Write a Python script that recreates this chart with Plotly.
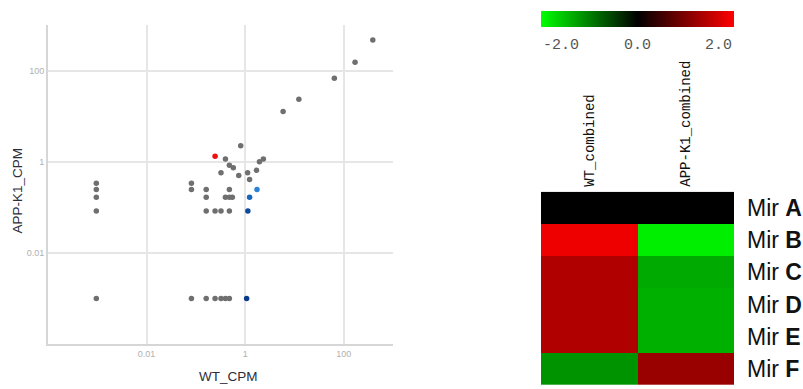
import plotly.graph_objects as go

W, H = 803, 389

# ---------------- Scatter data (CPM, log10 values) ----------------
gray_log_x = [-3.02, -3.02, -3.02, -3.02, -3.02,
              -1.09, -1.09, -1.09,
              -0.79, -0.79, -0.79, -0.79,
              -0.61, -0.61,
              -0.49, -0.49, -0.49,
              -0.40, -0.40, -0.40,
              -0.32, -0.32, -0.32, -0.32, -0.32,
              -0.24, -0.26,
              -0.13, -0.09, 0.05, 0.09, 0.23, 0.29, 0.37,
              0.77, 1.09, 1.81, 2.23, 2.59]
gray_log_y = [-0.47, -0.61, -0.78, -1.08, -3.0,
              -0.47, -0.61, -3.0,
              -0.61, -0.78, -1.08, -3.0,
              -1.08, -3.0,
              -0.24, -1.08, -3.0,
              0.06, -0.78, -3.0,
              -0.08, -0.61, -0.78, -1.08, -3.0,
              -0.13, -0.78,
              -0.30, 0.35, -0.24, -0.39, -0.19, 0.0, 0.06,
              1.10, 1.37, 1.83, 2.18, 2.67]
red_log_x = [-0.61]
red_log_y = [0.12]
blue_log_x = [0.24, 0.09, 0.055, 0.03]
blue_log_y = [-0.61, -0.78, -1.08, -3.0]
blue_colors = ["#2a82d4", "#1766bc", "#0d4a9c", "#0a3a8a"]

gray_x = [10 ** v for v in gray_log_x]
gray_y = [10 ** v for v in gray_log_y]
red_x = [10 ** v for v in red_log_x]
red_y = [10 ** v for v in red_log_y]
blue_x = [10 ** v for v in blue_log_x]
blue_y = [10 ** v for v in blue_log_y]

axis_ticks = [0.01, 1, 100]
axis_tick_text = ["0.01", "1", "100"]

# ---------------- Heatmap data ----------------
heat_cols = ["WT_combined", "APP-K1_combined"]
heat_rows = ["Mir A", "Mir B", "Mir C", "Mir D", "Mir E", "Mir F"]
heat_wt = [0.0, 1.87, 1.38, 1.38, 1.38, -1.15]
heat_app = [0.0, -1.87, -1.33, -1.38, -1.38, 1.2]
heat_z = [[a, b] for a, b in zip(heat_wt, heat_app)]
row_labels = ["Mir <b>" + r.split()[1] + "</b>" for r in heat_rows]
cbar_ticks = ["-2.0", "0.0", "2.0"]


def px(x):
    return x / W


def py(y):
    return 1 - y / H


fig = go.Figure()

mk = dict(size=5.5, line=dict(width=0))
fig.add_trace(go.Scatter(x=gray_x, y=gray_y, mode="markers",
                         marker=dict(color="#6f6f6f", **mk),
                         xaxis="x", yaxis="y", showlegend=False))
fig.add_trace(go.Scatter(x=red_x, y=red_y, mode="markers",
                         marker=dict(color="#f01010", **mk),
                         xaxis="x", yaxis="y", showlegend=False))
fig.add_trace(go.Scatter(x=blue_x, y=blue_y, mode="markers",
                         marker=dict(color=blue_colors, **mk),
                         xaxis="x", yaxis="y", showlegend=False))

fig.add_trace(go.Heatmap(
    z=heat_z, x=heat_cols, y=row_labels,
    xaxis="x2", yaxis="y2",
    colorscale=[[0, "#00ff00"], [0.5, "#000000"], [1, "#ff0000"]],
    zmin=-2, zmax=2,
    colorbar=dict(orientation="h", x=px(637.5), xanchor="center",
                  y=py(19), yanchor="middle",
                  lenmode="pixels", len=193, thickness=16,
                  outlinewidth=0, xpad=0, ypad=0,
                  showticklabels=False, ticks=""),
))

tick_font = dict(family="Liberation Sans", size=9, color="#b0b0b0")
grid = dict(showgrid=True, gridcolor="#e6e6e6", gridwidth=1.5,
            showline=True, linecolor="#d6d6d6", linewidth=2,
            zeroline=False, ticks="", tickfont=tick_font,
            tickvals=axis_ticks, ticktext=axis_tick_text, automargin=False)

fig.update_layout(
    width=W, height=H,
    margin=dict(l=0, r=0, t=0, b=0),
    paper_bgcolor="white", plot_bgcolor="white",
    xaxis=dict(type="log", range=[-4, 3], domain=[px(48), px(393)],
               anchor="y", **grid),
    yaxis=dict(type="log", range=[-4, 3], domain=[py(344), py(25)],
               anchor="x", **grid),
    xaxis2=dict(domain=[px(541), px(734)], anchor="y2", side="top",
                tickangle=-90, ticks="", showgrid=False, zeroline=False,
                showline=False, automargin=False, ticklabelstandoff=4,
                tickfont=dict(family="Liberation Mono", size=14, color="#111111")),
    yaxis2=dict(domain=[py(385), py(191.7)], anchor="x2", side="right",
                autorange="reversed", ticks="", showgrid=False, zeroline=False,
                showline=False, automargin=False, ticklabelstandoff=12,
                tickmode="array", tickvals=row_labels, ticktext=row_labels,
                tickfont=dict(family="Liberation Sans", size=23, color="#111111")),
)

title_font = dict(family="Liberation Sans", size=13.5, color="#2e2e3a")
fig.add_annotation(text="WT_CPM", x=px(228), y=py(376.7), xref="paper", yref="paper",
                   showarrow=False, font=title_font, xanchor="center", yanchor="middle")
fig.add_annotation(text="APP-K1_CPM", x=px(17), y=py(190.5), xref="paper", yref="paper",
                   showarrow=False, font=title_font, textangle=-90,
                   xanchor="center", yanchor="middle")

cb_font = dict(family="Liberation Mono", size=15, color="#555555")
for txt, xx, anc in zip(cbar_ticks, [541, 637.5, 734], ["left", "center", "right"]):
    fig.add_annotation(text=txt, x=px(xx), y=py(45.7), xref="paper", yref="paper",
                       showarrow=False, font=cb_font, xanchor=anc, yanchor="middle")

fig.write_html("out.html", config={"displayModeBar": False},
               post_script="document.body.style.margin='0';document.body.style.overflow='hidden';")
